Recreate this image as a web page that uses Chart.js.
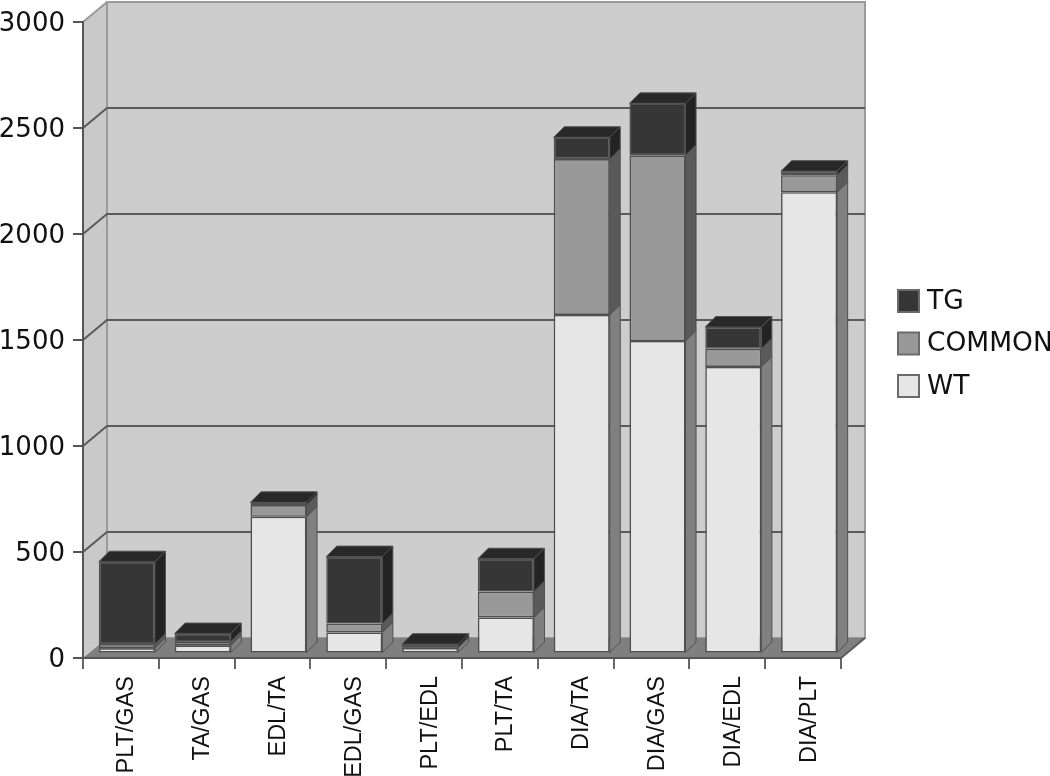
<!DOCTYPE html>
<html>
<head>
<meta charset="utf-8">
<style>
    html, body { margin: 0; padding: 0; background: #fff; overflow: hidden; }
    canvas { display: block; }
</style>
<script src="https://cdn.jsdelivr.net/npm/chart.js@4/dist/chart.umd.min.js"></script>
</head>
<body>
<canvas id="chartGenes" width="1050" height="776"></canvas>
<script>
var categories = ['PLT/GAS', 'TA/GAS', 'EDL/TA', 'EDL/GAS', 'PLT/EDL', 'PLT/TA', 'DIA/TA', 'DIA/GAS', 'DIA/EDL', 'DIA/PLT'];
var wt = [25, 38, 645, 99, 26, 170, 1597, 1474, 1352, 2176];
var common = [20, 18, 55, 42, 4, 122, 735, 876, 85, 80];
var tg = [388, 38, 13, 316, 14, 155, 103, 245, 103, 19];

var wallDx = 24, wallDy = -20;
var barDx = 10.5, barDy = -10.5;
var shiftX = 6, shiftY = -4.5;
var edgeColor = '#505050';

function poly(ctx, pts, fill, stroke, lw) {
    ctx.beginPath();
    ctx.moveTo(pts[0][0], pts[0][1]);
    for (var i = 1; i < pts.length; i++) ctx.lineTo(pts[i][0], pts[i][1]);
    ctx.closePath();
    ctx.fillStyle = fill;
    ctx.fill();
    if (stroke) {
        ctx.strokeStyle = stroke;
        ctx.lineWidth = lw;
        ctx.stroke();
    }
}

// walls and floor behind the bars, taken from the chart's own scales
var wallsPlugin = {
    id: 'walls',
    beforeDraw: function (chart) {
        var ctx = chart.ctx, a = chart.chartArea, y = chart.scales.y;
        ctx.save();
        poly(ctx, [[a.left, a.top], [a.left + wallDx, a.top + wallDy], [a.left + wallDx, a.bottom + wallDy], [a.left, a.bottom]], '#c9c9c9');
        poly(ctx, [[a.left + wallDx, a.top + wallDy], [a.right + wallDx, a.top + wallDy], [a.right + wallDx, a.bottom + wallDy], [a.left + wallDx, a.bottom + wallDy]], '#cdcdcd', '#9a9a9a', 2);
        poly(ctx, [[a.left, a.bottom], [a.left + wallDx, a.bottom + wallDy], [a.right + wallDx, a.bottom + wallDy], [a.right, a.bottom]], '#7f7f7f');

        ctx.strokeStyle = '#9a9a9a';
        ctx.lineWidth = 2;
        ctx.beginPath();
        ctx.moveTo(a.left, a.top);
        ctx.lineTo(a.left + wallDx, a.top + wallDy);
        ctx.stroke();

        ctx.strokeStyle = '#5a5a5a';
        y.ticks.forEach(function (t) {
            if (t.value === y.max || t.value === y.min) return;
            var py = y.getPixelForValue(t.value);
            ctx.beginPath();
            ctx.moveTo(a.left, py);
            ctx.lineTo(a.left + wallDx, py + wallDy);
            ctx.lineTo(a.right + wallDx, py + wallDy);
            ctx.stroke();
        });

        ctx.beginPath();
        ctx.moveTo(a.right, a.bottom);
        ctx.lineTo(a.right + wallDx, a.bottom + wallDy);
        ctx.stroke();
        ctx.restore();
    }
};

// side and top faces of each stacked bar, the front is the normal bar element
var boxPlugin = {
    id: 'boxes',
    beforeDatasetsDraw: function (chart) {
        var ctx = chart.ctx;
        ctx.save();
        ctx.translate(shiftX, shiftY);
        var count = chart.data.datasets.length;
        chart.data.datasets.forEach(function (ds, i) {
            chart.getDatasetMeta(i).data.forEach(function (bar) {
                var r = bar.x + bar.width / 2, l = bar.x - bar.width / 2;
                poly(ctx, [[r, bar.base], [r + barDx, bar.base + barDy], [r + barDx, bar.y + barDy], [r, bar.y]], ds.sideColor, edgeColor, 1);
                if (i === count - 1) {
                    poly(ctx, [[l, bar.y], [l + barDx, bar.y + barDy], [r + barDx, bar.y + barDy], [r, bar.y]], ds.topColor, edgeColor, 1);
                }
            });
        });
    },
    afterDatasetsDraw: function (chart) {
        chart.ctx.restore();
    }
};

var legendPlugin = {
    id: 'sideLegend',
    afterDraw: function (chart) {
        var ctx = chart.ctx;
        var items = chart.data.datasets.slice().reverse();
        ctx.save();
        ctx.font = '26.5px "DejaVu Sans"';
        ctx.textBaseline = 'middle';
        items.forEach(function (ds, i) {
            var cy = 301 + i * 42.5;
            ctx.fillStyle = ds.backgroundColor;
            ctx.strokeStyle = '#6a6a6a';
            ctx.lineWidth = 2;
            ctx.fillRect(898, cy - 11, 21, 22);
            ctx.strokeRect(898, cy - 11, 21, 22);
            ctx.fillStyle = '#111111';
            ctx.fillText(ds.label, 927, cy + 1);
        });
        ctx.restore();
    }
};

function barSet(label, data, front, side, top) {
    return {
        label: label,
        data: data,
        backgroundColor: front,
        sideColor: side,
        topColor: top,
        borderColor: edgeColor,
        borderWidth: 1.6,
        borderSkipped: false,
        clip: false
    };
}

new Chart(document.getElementById('chartGenes'), {
    type: 'bar',
    data: {
        labels: categories,
        datasets: [
            barSet('WT', wt, '#e6e6e6', '#808080', '#b5b5b5'),
            barSet('COMMON', common, '#999999', '#5a5a5a', '#777777'),
            barSet('TG', tg, '#363636', '#232323', '#282828')
        ]
    },
    options: {
        responsive: false,
        animation: false,
        barPercentage: 0.74,
        categoryPercentage: 1,
        layout: { padding: { top: 22, right: 209, left: 0, bottom: 0 } },
        plugins: { legend: { display: false }, tooltip: { enabled: false } },
        scales: {
            x: {
                stacked: true,
                afterFit: function (s) { s.height = 118; },
                border: { color: '#555555', width: 2 },
                grid: { drawOnChartArea: false, drawTicks: true, tickLength: 11, color: '#666666', lineWidth: 2 },
                ticks: {
                    autoSkip: false,
                    minRotation: 90,
                    maxRotation: 90,
                    padding: 7,
                    labelOffset: 6,
                    color: '#111111',
                    font: { family: '"Liberation Sans"', size: 23.5 }
                }
            },
            y: {
                stacked: true,
                min: 0,
                max: 3000,
                afterFit: function (s) {
                    s.width = 83;
                    s.paddingTop = 0;
                    s.paddingBottom = 0;
                },
                border: { color: '#555555', width: 2 },
                grid: { drawOnChartArea: false, drawTicks: true, tickLength: 10, color: '#555555', lineWidth: 2 },
                ticks: {
                    stepSize: 500,
                    padding: 8,
                    labelOffset: 2,
                    color: '#111111',
                    font: { family: '"DejaVu Sans"', size: 26 },
                    callback: function (v) { return String(v); }
                }
            }
        }
    },
    plugins: [wallsPlugin, boxPlugin, legendPlugin]
});
</script>
</body>
</html>
